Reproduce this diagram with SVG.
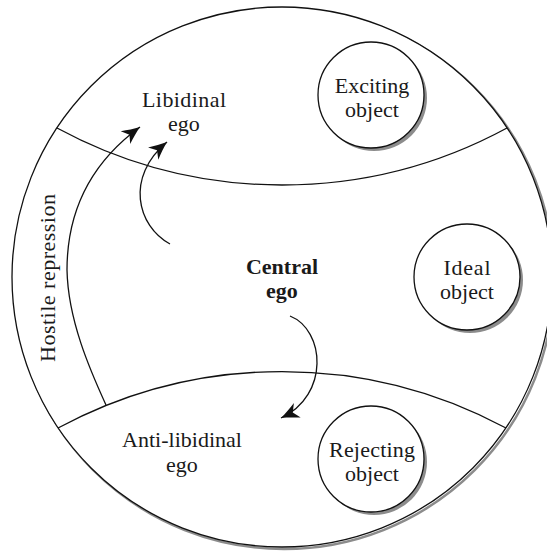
<svg xmlns="http://www.w3.org/2000/svg" width="547" height="551" viewBox="0 0 547 551">
<style>
.t{font-family:"Liberation Serif","Times New Roman",serif;font-size:22px;fill:#1a1a1a;text-anchor:middle}
.b{font-weight:bold}
.ln{fill:none;stroke:#111;stroke-width:1.3}
.oc{fill:#fff;stroke:#111;stroke-width:1.3}
.sh{fill:#8c8c8c}
</style>
<defs>
<marker id="ah" markerUnits="userSpaceOnUse" markerWidth="24" markerHeight="20" refX="20" refY="9" orient="auto" viewBox="0 0 24 20">
<path d="M20,9 C14,7 8,4 2,1 L7,9 L2,17 C8,14 14,11 20,9 Z" fill="#111"/>
</marker>
</defs>
<rect width="547" height="551" fill="#fff"/>
<g id="psyche">
<circle cx="284" cy="279" r="270" fill="none" stroke="#8c8c8c" stroke-width="2.5"/>
<circle cx="282" cy="277" r="270" class="oc"/>
</g>
<g id="dividers">
<path class="ln" d="M57,128 A472.6,472.6 0 0 0 507,128"/>
<path class="ln" d="M58,428 A472.6,472.6 0 0 1 506,428"/>
</g>
<g id="connectors">
<path class="ln" d="M106,405 C90,370 68,320 67,270 C67,215 88,165 140,127" marker-end="url(#ah)"/>
<path class="ln" d="M170,244 C137,226 125,177 167,142" marker-end="url(#ah)"/>
<path class="ln" d="M290,316 C325,330 330,395 281,418" marker-end="url(#ah)"/>
</g>
<g id="hostile-repression">
<text class="t" transform="translate(55,278) rotate(-90)" x="0" y="0" textLength="168">Hostile repression</text>
</g>
<g id="libidinal-ego">
<text class="t" x="184" y="107" textLength="84">Libidinal</text>
<text class="t" x="184" y="131">ego</text>
</g>
<g id="exciting-object">
<circle class="sh" cx="374" cy="98" r="53"/>
<circle class="oc" cx="371" cy="95" r="53"/>
<text class="t" x="372" y="93">Exciting</text>
<text class="t" x="372" y="117">object</text>
</g>
<g id="central-ego">
<text class="t b" x="282" y="274">Central</text>
<text class="t b" x="282" y="298">ego</text>
</g>
<g id="ideal-object">
<circle class="sh" cx="470" cy="280" r="53"/>
<circle class="oc" cx="467" cy="277" r="53"/>
<text class="t" x="467" y="275" textLength="47">Ideal</text>
<text class="t" x="467" y="299">object</text>
</g>
<g id="anti-libidinal-ego">
<text class="t" x="182" y="447">Anti-libidinal</text>
<text class="t" x="182" y="472">ego</text>
</g>
<g id="rejecting-object">
<circle class="sh" cx="374" cy="462" r="53"/>
<circle class="oc" cx="371" cy="459" r="53"/>
<text class="t" x="372" y="457" textLength="86">Rejecting</text>
<text class="t" x="372" y="481">object</text>
</g>
</svg>
